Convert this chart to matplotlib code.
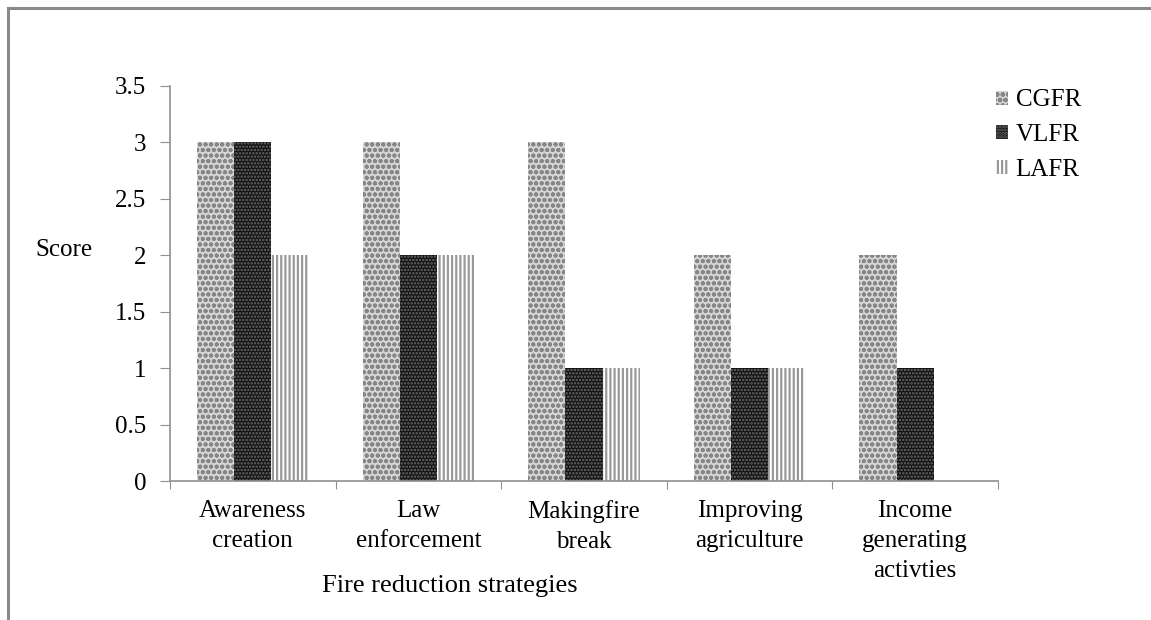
import matplotlib
matplotlib.use("Agg")
import matplotlib.pyplot as plt
import numpy as np
from matplotlib.lines import Line2D

categories = ["Awareness\ncreation", "Law\nenforcement", "Makingfire\nbreak",
              "Improving\nagriculture", "Income\ngenerating\nactivties"]
series_names = ["CGFR", "VLFR", "LAFR"]
cgfr = [3, 3, 3, 2, 2]
vlfr = [3, 2, 1, 1, 1]
lafr = [2, 2, 1, 1, 0]
yticks = [0, 0.5, 1, 1.5, 2, 2.5, 3, 3.5]
ytick_labels = ["0", "0.5", "1", "1.5", "2", "2.5", "3", "3.5"]

plt.rcParams['font.family'] = ['Liberation Serif', 'DejaVu Serif']

fig = plt.figure(figsize=(11.51, 6.2), dpi=100)
ax = fig.add_axes([170/1151, 1-481/620, (998-170)/1151, (481-86)/620])

x = np.arange(len(categories))
w = 0.225
styles = [
    dict(facecolor='#d6d6d6', edgecolor='#868686', hatch='ooo'),
    dict(facecolor='#121212', edgecolor='#6a6a6a', hatch='.....'),
    dict(facecolor='white', edgecolor='#999999', hatch='||||'),
]
hlw = [1.3, 1.2, 1.6]
handles = []
for k, (vals, name) in enumerate(zip([cgfr, vlfr, lafr], series_names)):
    plt.rcParams['hatch.linewidth'] = hlw[k]
    b = ax.bar(x + (k-1)*w, vals, width=w, linewidth=0, label=name, **styles[k])
    handles.append(b)

ax.set_xlim(-0.5, len(categories)-0.5)
ax.set_ylim(0, 3.5)
ax.set_yticks(yticks)
ax.set_yticklabels(ytick_labels, fontsize=18)
ax.set_xticks(np.arange(len(categories)+1) - 0.5)
ax.set_xticklabels([])
ax.set_xticks(x, minor=True)
ax.set_xticklabels(categories, minor=True, fontsize=18, linespacing=1.45)
ax.tick_params(axis='x', which='minor', length=0, pad=14)
ax.tick_params(axis='x', which='major', length=6, color='#909090', direction='out')
ax.tick_params(axis='y', length=7, color='#909090', direction='out', pad=10)
for s in ['top', 'right']:
    ax.spines[s].set_visible(False)
for s in ['left', 'bottom']:
    ax.spines[s].set_color('#909090')
    ax.spines[s].set_linewidth(1.2)

fig.text(35/1151, 1-250/620, "Score", fontsize=18, va='center', ha='left')
fig.text(450/1151, 1-586/620, "Fire reduction strategies", fontsize=19, va='center', ha='center')

leg = ax.legend(handles=handles, loc='upper left', bbox_to_anchor=(978/1151, 1-72/620),
                bbox_transform=fig.transFigure, frameon=False, fontsize=18,
                handlelength=0.5, handleheight=0.5, handletextpad=0.3, labelspacing=0.5,
                borderpad=0.2)

# partial frame
fig.add_artist(Line2D([8/1151, 1], [1-8/620, 1-8/620], transform=fig.transFigure,
                      color='#8a8a8a', linewidth=2.2))
fig.add_artist(Line2D([8/1151, 8/1151], [0, 1-8/620], transform=fig.transFigure,
                      color='#8a8a8a', linewidth=2.2))

fig.savefig("out.png", dpi=100)
